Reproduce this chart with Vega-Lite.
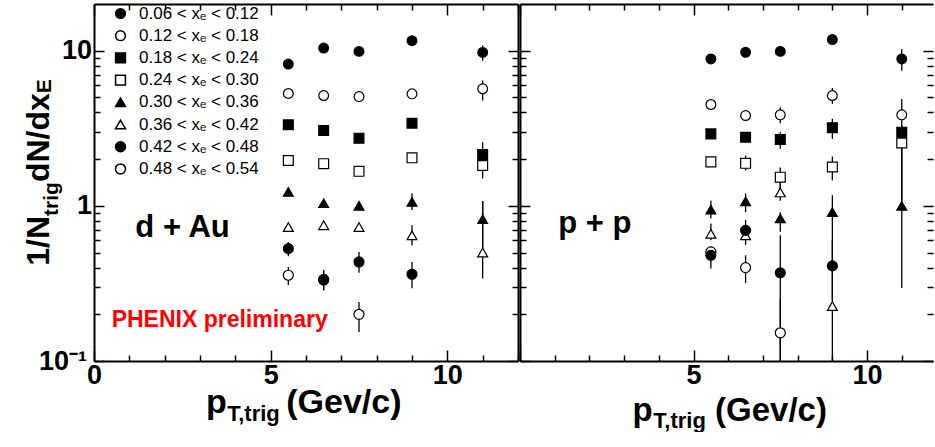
{
  "$schema": "https://vega.github.io/schema/vega-lite/v6.json",
  "padding": {"left": 22, "top": 3, "right": 0, "bottom": 0},
  "autosize": {"type": "pad"},
  "background": "white",
  "spacing": 0,
  "datasets": {
    "pts": [
      {"panel":"dAu","series":"0.06 < xₑ < 0.12","pt":5.5,"v":8.2,"lo":8.0,"hi":8.4},
      {"panel":"dAu","series":"0.06 < xₑ < 0.12","pt":6.5,"v":10.4,"lo":10.1,"hi":10.7},
      {"panel":"dAu","series":"0.06 < xₑ < 0.12","pt":7.5,"v":9.9,"lo":9.6,"hi":10.2},
      {"panel":"dAu","series":"0.06 < xₑ < 0.12","pt":9,"v":11.6,"lo":11.2,"hi":12.0},
      {"panel":"dAu","series":"0.06 < xₑ < 0.12","pt":11,"v":9.75,"lo":8.63,"hi":10.8},
      {"panel":"dAu","series":"0.12 < xₑ < 0.18","pt":5.5,"v":5.3,"lo":5.15,"hi":5.45},
      {"panel":"dAu","series":"0.12 < xₑ < 0.18","pt":6.5,"v":5.14,"lo":5.0,"hi":5.3},
      {"panel":"dAu","series":"0.12 < xₑ < 0.18","pt":7.5,"v":5.06,"lo":4.9,"hi":5.2},
      {"panel":"dAu","series":"0.12 < xₑ < 0.18","pt":9,"v":5.27,"lo":5.1,"hi":5.45},
      {"panel":"dAu","series":"0.12 < xₑ < 0.18","pt":11,"v":5.68,"lo":4.77,"hi":6.42},
      {"panel":"dAu","series":"0.18 < xₑ < 0.24","pt":5.5,"v":3.33,"lo":3.22,"hi":3.44},
      {"panel":"dAu","series":"0.18 < xₑ < 0.24","pt":6.5,"v":3.06,"lo":2.95,"hi":3.17},
      {"panel":"dAu","series":"0.18 < xₑ < 0.24","pt":7.5,"v":2.73,"lo":2.52,"hi":2.85},
      {"panel":"dAu","series":"0.18 < xₑ < 0.24","pt":9,"v":3.41,"lo":3.28,"hi":3.55},
      {"panel":"dAu","series":"0.18 < xₑ < 0.24","pt":11,"v":2.14,"lo":1.85,"hi":2.57},
      {"panel":"dAu","series":"0.24 < xₑ < 0.30","pt":5.5,"v":1.96,"lo":1.9,"hi":2.02},
      {"panel":"dAu","series":"0.24 < xₑ < 0.30","pt":6.5,"v":1.87,"lo":1.8,"hi":1.94},
      {"panel":"dAu","series":"0.24 < xₑ < 0.30","pt":7.5,"v":1.67,"lo":1.6,"hi":1.74},
      {"panel":"dAu","series":"0.24 < xₑ < 0.30","pt":9,"v":2.04,"lo":1.92,"hi":2.16},
      {"panel":"dAu","series":"0.24 < xₑ < 0.30","pt":11,"v":1.82,"lo":1.5,"hi":2.11},
      {"panel":"dAu","series":"0.30 < xₑ < 0.36","pt":5.5,"v":1.23,"lo":1.19,"hi":1.27},
      {"panel":"dAu","series":"0.30 < xₑ < 0.36","pt":6.5,"v":1.04,"lo":1.0,"hi":1.08},
      {"panel":"dAu","series":"0.30 < xₑ < 0.36","pt":7.5,"v":1.0,"lo":0.95,"hi":1.05},
      {"panel":"dAu","series":"0.30 < xₑ < 0.36","pt":9,"v":1.06,"lo":0.94,"hi":1.2},
      {"panel":"dAu","series":"0.30 < xₑ < 0.36","pt":11,"v":0.82,"lo":0.54,"hi":1.07},
      {"panel":"dAu","series":"0.36 < xₑ < 0.42","pt":5.5,"v":0.73,"lo":0.7,"hi":0.76},
      {"panel":"dAu","series":"0.36 < xₑ < 0.42","pt":6.5,"v":0.75,"lo":0.72,"hi":0.78},
      {"panel":"dAu","series":"0.36 < xₑ < 0.42","pt":7.5,"v":0.73,"lo":0.69,"hi":0.77},
      {"panel":"dAu","series":"0.36 < xₑ < 0.42","pt":9,"v":0.645,"lo":0.557,"hi":0.75},
      {"panel":"dAu","series":"0.36 < xₑ < 0.42","pt":11,"v":0.5,"lo":0.34,"hi":1.07},
      {"panel":"dAu","series":"0.42 < xₑ < 0.48","pt":5.5,"v":0.53,"lo":0.473,"hi":0.585},
      {"panel":"dAu","series":"0.42 < xₑ < 0.48","pt":6.5,"v":0.332,"lo":0.286,"hi":0.385},
      {"panel":"dAu","series":"0.42 < xₑ < 0.48","pt":7.5,"v":0.435,"lo":0.37,"hi":0.505},
      {"panel":"dAu","series":"0.42 < xₑ < 0.48","pt":9,"v":0.362,"lo":0.294,"hi":0.435},
      {"panel":"dAu","series":"0.48 < xₑ < 0.54","pt":5.5,"v":0.357,"lo":0.308,"hi":0.403},
      {"panel":"dAu","series":"0.48 < xₑ < 0.54","pt":6.5,"v":0.336,"lo":0.286,"hi":0.385},
      {"panel":"dAu","series":"0.48 < xₑ < 0.54","pt":7.5,"v":0.2,"lo":0.154,"hi":0.24},
      {"panel":"pp","series":"0.06 < xₑ < 0.12","pt":5.5,"v":8.85,"lo":8.6,"hi":9.1},
      {"panel":"pp","series":"0.06 < xₑ < 0.12","pt":6.5,"v":9.76,"lo":9.5,"hi":10.0},
      {"panel":"pp","series":"0.06 < xₑ < 0.12","pt":7.5,"v":9.9,"lo":9.6,"hi":10.2},
      {"panel":"pp","series":"0.06 < xₑ < 0.12","pt":9,"v":11.8,"lo":11.4,"hi":12.2},
      {"panel":"pp","series":"0.06 < xₑ < 0.12","pt":11,"v":8.85,"lo":7.44,"hi":10.25},
      {"panel":"pp","series":"0.12 < xₑ < 0.18","pt":5.5,"v":4.5,"lo":4.35,"hi":4.65},
      {"panel":"pp","series":"0.12 < xₑ < 0.18","pt":6.5,"v":3.82,"lo":3.6,"hi":4.05},
      {"panel":"pp","series":"0.12 < xₑ < 0.18","pt":7.5,"v":3.86,"lo":3.41,"hi":4.32},
      {"panel":"pp","series":"0.12 < xₑ < 0.18","pt":9,"v":5.14,"lo":4.54,"hi":5.75},
      {"panel":"pp","series":"0.12 < xₑ < 0.18","pt":11,"v":3.86,"lo":2.64,"hi":4.89},
      {"panel":"pp","series":"0.18 < xₑ < 0.24","pt":5.5,"v":2.91,"lo":2.8,"hi":3.02},
      {"panel":"pp","series":"0.18 < xₑ < 0.24","pt":6.5,"v":2.77,"lo":2.62,"hi":2.92},
      {"panel":"pp","series":"0.18 < xₑ < 0.24","pt":7.5,"v":2.68,"lo":2.33,"hi":2.98},
      {"panel":"pp","series":"0.18 < xₑ < 0.24","pt":9,"v":3.19,"lo":2.7,"hi":3.64},
      {"panel":"pp","series":"0.18 < xₑ < 0.24","pt":11,"v":2.98,"lo":2.64,"hi":3.29},
      {"panel":"pp","series":"0.24 < xₑ < 0.30","pt":5.5,"v":1.92,"lo":1.8,"hi":2.05},
      {"panel":"pp","series":"0.24 < xₑ < 0.30","pt":6.5,"v":1.88,"lo":1.69,"hi":2.11},
      {"panel":"pp","series":"0.24 < xₑ < 0.30","pt":7.5,"v":1.53,"lo":1.26,"hi":1.77},
      {"panel":"pp","series":"0.24 < xₑ < 0.30","pt":9,"v":1.78,"lo":1.46,"hi":2.08},
      {"panel":"pp","series":"0.24 < xₑ < 0.30","pt":11,"v":2.54,"lo":1.08,"hi":2.84},
      {"panel":"pp","series":"0.30 < xₑ < 0.36","pt":5.5,"v":0.945,"lo":0.83,"hi":1.08},
      {"panel":"pp","series":"0.30 < xₑ < 0.36","pt":6.5,"v":1.07,"lo":0.91,"hi":1.2},
      {"panel":"pp","series":"0.30 < xₑ < 0.36","pt":7.5,"v":0.83,"lo":0.68,"hi":0.91},
      {"panel":"pp","series":"0.30 < xₑ < 0.36","pt":9,"v":0.91,"lo":0.695,"hi":1.17},
      {"panel":"pp","series":"0.30 < xₑ < 0.36","pt":11,"v":1.0,"lo":0.295,"hi":2.6},
      {"panel":"pp","series":"0.36 < xₑ < 0.42","pt":5.5,"v":0.66,"lo":0.6,"hi":0.77},
      {"panel":"pp","series":"0.36 < xₑ < 0.42","pt":6.5,"v":0.645,"lo":0.56,"hi":0.75},
      {"panel":"pp","series":"0.36 < xₑ < 0.42","pt":7.5,"v":1.22,"lo":1.08,"hi":1.4},
      {"panel":"pp","series":"0.36 < xₑ < 0.42","pt":9,"v":0.226,"lo":0.1,"hi":0.7},
      {"panel":"pp","series":"0.42 < xₑ < 0.48","pt":5.5,"v":0.48,"lo":0.395,"hi":0.543},
      {"panel":"pp","series":"0.42 < xₑ < 0.48","pt":6.5,"v":0.695,"lo":0.6,"hi":0.81},
      {"panel":"pp","series":"0.42 < xₑ < 0.48","pt":7.5,"v":0.37,"lo":0.1,"hi":0.646},
      {"panel":"pp","series":"0.42 < xₑ < 0.48","pt":9,"v":0.41,"lo":0.247,"hi":0.6},
      {"panel":"pp","series":"0.48 < xₑ < 0.54","pt":5.5,"v":0.505,"lo":0.46,"hi":0.55},
      {"panel":"pp","series":"0.48 < xₑ < 0.54","pt":6.5,"v":0.4,"lo":0.318,"hi":0.48},
      {"panel":"pp","series":"0.48 < xₑ < 0.54","pt":7.5,"v":0.152,"lo":0.1,"hi":0.25}
    ],
    "notes": [
      {"panel":"dAu","kind":"label","t":"d + Au","x":1.17,"y":0.63},
      {"panel":"dAu","kind":"red","t":"PHENIX preliminary","x":0.50,"y":0.1656},
      {"panel":"dAu","kind":"big","t":"p","x":3.17,"y":0.0459},
      {"panel":"dAu","kind":"sub","t":"T,trig","x":3.77,"y":0.0411},
      {"panel":"dAu","kind":"big","t":"(Gev/c)","x":5.44,"y":0.0459},
      {"panel":"dAu","kind":"ymain","t":"1/N","x":-1.274,"y":0.4113},
      {"panel":"dAu","kind":"ysub","t":"trig","x":-1.019,"y":0.8614},
      {"panel":"dAu","kind":"ymain","t":"dN/dx","x":-1.274,"y":1.4228},
      {"panel":"dAu","kind":"ysub","t":"E","x":-1.217,"y":5.322},
      {"panel":"pp","kind":"label","t":"p + p","x":1.10,"y":0.668},
      {"panel":"pp","kind":"big","t":"p","x":3.24,"y":0.04135},
      {"panel":"pp","kind":"sub","t":"T,trig","x":3.84,"y":0.037},
      {"panel":"pp","kind":"big","t":"(Gev/c)","x":5.62,"y":0.04135}
    ]
  },
  "resolve": {"scale": {"shape": "independent", "fill": "independent", "size": "independent"}},
  "hconcat": [
    {
      "width": 424,
      "height": 357,
      "resolve": {"axis": {"x": "independent", "y": "independent"}},
      "layer": [
        {
          "data": {"name": "pts"},
          "transform": [{"filter": "datum.panel === 'dAu'"}],
          "mark": {"type": "rule", "color": "black", "strokeWidth": 1.3},
          "encoding": {
            "x": {"field": "pt", "type": "quantitative", "scale": {"domain": [0, 12], "nice": false, "zero": false},
              "axis": {"orient": "bottom", "title": null, "values": [0,1,2,3,4,5,6,7,8,9,10,11,12],
                "tickSize": {"condition": {"test": "datum.value % 5 === 0", "value": -11}, "value": -6},
                "labelExpr": "datum.value % 5 === 0 ? datum.label : ''", "labelPadding": 12}},
            "y": {"field": "lo", "type": "quantitative", "scale": {"type": "log", "domain": [0.1, 20], "nice": false},
              "axis": {"orient": "left", "title": null, "values": [0.1,0.2,0.3,0.4,0.5,0.6,0.7,0.8,0.9,1,2,3,4,5,6,7,8,9,10],
                "tickSize": {"condition": {"test": "datum.value == 0.1 || datum.value == 1 || datum.value == 10", "value": -10}, "value": -6},
                "labelPadding": {"condition": {"test": "datum.value == 0.1", "value": 17.5}, "value": 12.5},
                "labelExpr": "datum.value == 10 ? '10' : datum.value == 1 ? '1' : datum.value == 0.1 ? '10⁻¹' : ''"}},
            "y2": {"field": "hi"}
          }
        },
        {
          "data": {"name": "pts"},
          "transform": [{"filter": "datum.panel === 'dAu'"}, {"filter": {"field": "series", "oneOf": ["0.12 < xₑ < 0.18","0.24 < xₑ < 0.30","0.36 < xₑ < 0.42","0.48 < xₑ < 0.54"]}}],
          "mark": {"type": "point", "filled": true, "stroke": "black", "strokeWidth": 1.2, "opacity": 1},
          "encoding": {
            "x": {"field": "pt", "type": "quantitative", "scale": {"domain": [0, 12], "nice": false, "zero": false},
              "axis": {"orient": "top", "title": null, "values": [0,1,2,3,4,5,6,7,8,9,10,11,12], "labels": false,
                "tickSize": {"condition": {"test": "datum.value % 5 === 0", "value": -11}, "value": -6}}},
            "y": {"field": "v", "type": "quantitative", "scale": {"type": "log", "domain": [0.1, 20], "nice": false},
              "axis": {"orient": "right", "title": null, "values": [0.1,0.2,0.3,0.4,0.5,0.6,0.7,0.8,0.9,1,2,3,4,5,6,7,8,9,10], "labels": false,
                "tickSize": {"condition": {"test": "datum.value == 0.1 || datum.value == 1 || datum.value == 10", "value": -10}, "value": -6}}},
            "shape": {"field": "series", "type": "nominal",
              "legend": {"title": null, "encode": {"symbols": {"update": {"stroke": {"value": "black"}, "strokeWidth": {"value": 1.2}}}}},
              "scale": {"domain": ["0.06 < xₑ < 0.12","0.12 < xₑ < 0.18","0.18 < xₑ < 0.24","0.24 < xₑ < 0.30","0.30 < xₑ < 0.36","0.36 < xₑ < 0.42","0.42 < xₑ < 0.48","0.48 < xₑ < 0.54"],
                "range": ["circle","circle","square","square","triangle-up","triangle-up","circle","circle"]}},
            "fill": {"field": "series", "type": "nominal",
              "legend": {"title": null, "encode": {"symbols": {"update": {"stroke": {"value": "black"}, "strokeWidth": {"value": 1.2}}}}},
              "scale": {"domain": ["0.06 < xₑ < 0.12","0.12 < xₑ < 0.18","0.18 < xₑ < 0.24","0.24 < xₑ < 0.30","0.30 < xₑ < 0.36","0.36 < xₑ < 0.42","0.42 < xₑ < 0.48","0.48 < xₑ < 0.54"],
                "range": ["black","white","black","white","black","white","black","white"]}},
            "size": {"field": "series", "type": "nominal",
              "legend": {"title": null, "encode": {"symbols": {"update": {"stroke": {"value": "black"}, "strokeWidth": {"value": 1.2}}}}},
              "scale": {"domain": ["0.06 < xₑ < 0.12","0.12 < xₑ < 0.18","0.18 < xₑ < 0.24","0.24 < xₑ < 0.30","0.30 < xₑ < 0.36","0.36 < xₑ < 0.42","0.42 < xₑ < 0.48","0.48 < xₑ < 0.54"],
                "range": [95, 100, 95, 95, 100, 110, 55, 150]}}
          }
        },
        {
          "data": {"name": "pts"},
          "transform": [{"filter": "datum.panel === 'dAu'"}, {"filter": {"field": "series", "oneOf": ["0.06 < xₑ < 0.12","0.18 < xₑ < 0.24","0.30 < xₑ < 0.36","0.42 < xₑ < 0.48"]}}],
          "mark": {"type": "point", "filled": true, "stroke": "black", "strokeWidth": 1.2, "opacity": 1},
          "encoding": {
            "x": {"field": "pt", "type": "quantitative", "scale": {"domain": [0, 12], "nice": false, "zero": false}, "axis": null},
            "y": {"field": "v", "type": "quantitative", "scale": {"type": "log", "domain": [0.1, 20], "nice": false}, "axis": null},
            "shape": {"field": "series", "type": "nominal",
              "legend": {"title": null, "encode": {"symbols": {"update": {"stroke": {"value": "black"}, "strokeWidth": {"value": 1.2}}}}},
              "scale": {"domain": ["0.06 < xₑ < 0.12","0.12 < xₑ < 0.18","0.18 < xₑ < 0.24","0.24 < xₑ < 0.30","0.30 < xₑ < 0.36","0.36 < xₑ < 0.42","0.42 < xₑ < 0.48","0.48 < xₑ < 0.54"],
                "range": ["circle","circle","square","square","triangle-up","triangle-up","circle","circle"]}},
            "fill": {"field": "series", "type": "nominal",
              "legend": {"title": null, "encode": {"symbols": {"update": {"stroke": {"value": "black"}, "strokeWidth": {"value": 1.2}}}}},
              "scale": {"domain": ["0.06 < xₑ < 0.12","0.12 < xₑ < 0.18","0.18 < xₑ < 0.24","0.24 < xₑ < 0.30","0.30 < xₑ < 0.36","0.36 < xₑ < 0.42","0.42 < xₑ < 0.48","0.48 < xₑ < 0.54"],
                "range": ["black","white","black","white","black","white","black","white"]}},
            "size": {"field": "series", "type": "nominal",
              "legend": {"title": null, "encode": {"symbols": {"update": {"stroke": {"value": "black"}, "strokeWidth": {"value": 1.2}}}}},
              "scale": {"domain": ["0.06 < xₑ < 0.12","0.12 < xₑ < 0.18","0.18 < xₑ < 0.24","0.24 < xₑ < 0.30","0.30 < xₑ < 0.36","0.36 < xₑ < 0.42","0.42 < xₑ < 0.48","0.48 < xₑ < 0.54"],
                "range": [95, 100, 95, 95, 100, 110, 55, 150]}}
          }
        },
        {
          "data": {"name": "notes"},
          "transform": [{"filter": "datum.panel === 'dAu' && datum.kind === 'label'"}],
          "mark": {"type": "text", "font": "Liberation Sans", "fontWeight": "bold", "fontSize": 31, "align": "left", "baseline": "alphabetic", "color": "black"},
          "encoding": {
            "x": {"field": "x", "type": "quantitative", "scale": {"domain": [0, 12], "nice": false, "zero": false}, "axis": null},
            "y": {"field": "y", "type": "quantitative", "scale": {"type": "log", "domain": [0.1, 20], "nice": false}, "axis": null},
            "text": {"field": "t"}
          }
        },
        {
          "data": {"name": "notes"},
          "transform": [{"filter": "datum.panel === 'dAu' && datum.kind === 'big'"}],
          "mark": {"type": "text", "font": "Liberation Sans", "fontWeight": "bold", "fontSize": 34, "align": "left", "baseline": "alphabetic", "color": "black"},
          "encoding": {
            "x": {"field": "x", "type": "quantitative", "scale": {"domain": [0, 12], "nice": false, "zero": false}, "axis": null},
            "y": {"field": "y", "type": "quantitative", "scale": {"type": "log", "domain": [0.1, 20], "nice": false}, "axis": null},
            "text": {"field": "t"}
          }
        },
        {
          "data": {"name": "notes"},
          "transform": [{"filter": "datum.panel === 'dAu' && datum.kind === 'sub'"}],
          "mark": {"type": "text", "font": "Liberation Sans", "fontWeight": "bold", "fontSize": 22, "align": "left", "baseline": "alphabetic", "color": "black"},
          "encoding": {
            "x": {"field": "x", "type": "quantitative", "scale": {"domain": [0, 12], "nice": false, "zero": false}, "axis": null},
            "y": {"field": "y", "type": "quantitative", "scale": {"type": "log", "domain": [0.1, 20], "nice": false}, "axis": null},
            "text": {"field": "t"}
          }
        },
        {
          "data": {"name": "notes"},
          "transform": [{"filter": "datum.panel === 'dAu' && datum.kind === 'red'"}],
          "mark": {"type": "text", "font": "Liberation Sans", "fontWeight": "bold", "fontSize": 23, "align": "left", "baseline": "alphabetic", "color": "#ff0000"},
          "encoding": {
            "x": {"field": "x", "type": "quantitative", "scale": {"domain": [0, 12], "nice": false, "zero": false}, "axis": null},
            "y": {"field": "y", "type": "quantitative", "scale": {"type": "log", "domain": [0.1, 20], "nice": false}, "axis": null},
            "text": {"field": "t"}
          }
        },
        {
          "data": {"name": "notes"},
          "transform": [{"filter": "datum.panel === 'dAu' && datum.kind === 'ymain'"}],
          "mark": {"type": "text", "font": "Liberation Sans", "fontWeight": "bold", "fontSize": 32, "angle": 270, "align": "left", "baseline": "alphabetic", "color": "black"},
          "encoding": {
            "x": {"field": "x", "type": "quantitative", "scale": {"domain": [0, 12], "nice": false, "zero": false}, "axis": null},
            "y": {"field": "y", "type": "quantitative", "scale": {"type": "log", "domain": [0.1, 20], "nice": false}, "axis": null},
            "text": {"field": "t"}
          }
        },
        {
          "data": {"name": "notes"},
          "transform": [{"filter": "datum.panel === 'dAu' && datum.kind === 'ysub'"}],
          "mark": {"type": "text", "font": "Liberation Sans", "fontWeight": "bold", "fontSize": 21, "angle": 270, "align": "left", "baseline": "alphabetic", "color": "black"},
          "encoding": {
            "x": {"field": "x", "type": "quantitative", "scale": {"domain": [0, 12], "nice": false, "zero": false}, "axis": null},
            "y": {"field": "y", "type": "quantitative", "scale": {"type": "log", "domain": [0.1, 20], "nice": false}, "axis": null},
            "text": {"field": "t"}
          }
        }
      ]
    },
    {
      "width": 413,
      "height": 357,
      "resolve": {"axis": {"x": "independent", "y": "independent"}},
      "layer": [
        {
          "data": {"name": "pts"},
          "transform": [{"filter": "datum.panel === 'pp'"}],
          "mark": {"type": "rule", "color": "black", "strokeWidth": 1.3},
          "encoding": {
            "x": {"field": "pt", "type": "quantitative", "scale": {"domain": [0, 11.9], "nice": false, "zero": false},
              "axis": {"orient": "bottom", "title": null, "values": [0,1,2,3,4,5,6,7,8,9,10,11],
                "tickSize": {"condition": {"test": "datum.value % 5 === 0", "value": -11}, "value": -6},
                "labelExpr": "datum.value == 5 || datum.value == 10 ? datum.label : ''", "labelPadding": 12}},
            "y": {"field": "lo", "type": "quantitative", "scale": {"type": "log", "domain": [0.1, 20], "nice": false},
              "axis": {"orient": "left", "title": null, "values": [0.1,0.2,0.3,0.4,0.5,0.6,0.7,0.8,0.9,1,2,3,4,5,6,7,8,9,10], "labels": false,
                "tickSize": {"condition": {"test": "datum.value == 0.1 || datum.value == 1 || datum.value == 10", "value": -10}, "value": -6}}},
            "y2": {"field": "hi"}
          }
        },
        {
          "data": {"name": "pts"},
          "transform": [{"filter": "datum.panel === 'pp'"}, {"filter": {"field": "series", "oneOf": ["0.12 < xₑ < 0.18","0.24 < xₑ < 0.30","0.36 < xₑ < 0.42","0.48 < xₑ < 0.54"]}}],
          "mark": {"type": "point", "filled": true, "stroke": "black", "strokeWidth": 1.2, "opacity": 1},
          "encoding": {
            "x": {"field": "pt", "type": "quantitative", "scale": {"domain": [0, 11.9], "nice": false, "zero": false},
              "axis": {"orient": "top", "title": null, "values": [0,1,2,3,4,5,6,7,8,9,10,11], "labels": false,
                "tickSize": {"condition": {"test": "datum.value % 5 === 0", "value": -11}, "value": -6}}},
            "y": {"field": "v", "type": "quantitative", "scale": {"type": "log", "domain": [0.1, 20], "nice": false},
              "axis": {"orient": "right", "title": null, "domain": false, "values": [0.1,0.2,0.3,0.4,0.5,0.6,0.7,0.8,0.9,1,2,3,4,5,6,7,8,9,10], "labels": false,
                "tickSize": {"condition": {"test": "datum.value == 0.1 || datum.value == 1 || datum.value == 10", "value": -10}, "value": -6}}},
            "shape": {"field": "series", "type": "nominal", "legend": null,
              "scale": {"domain": ["0.06 < xₑ < 0.12","0.12 < xₑ < 0.18","0.18 < xₑ < 0.24","0.24 < xₑ < 0.30","0.30 < xₑ < 0.36","0.36 < xₑ < 0.42","0.42 < xₑ < 0.48","0.48 < xₑ < 0.54"],
                "range": ["circle","circle","square","square","triangle-up","triangle-up","circle","circle"]}},
            "fill": {"field": "series", "type": "nominal", "legend": null,
              "scale": {"domain": ["0.06 < xₑ < 0.12","0.12 < xₑ < 0.18","0.18 < xₑ < 0.24","0.24 < xₑ < 0.30","0.30 < xₑ < 0.36","0.36 < xₑ < 0.42","0.42 < xₑ < 0.48","0.48 < xₑ < 0.54"],
                "range": ["black","white","black","white","black","white","black","white"]}},
            "size": {"field": "series", "type": "nominal", "legend": null,
              "scale": {"domain": ["0.06 < xₑ < 0.12","0.12 < xₑ < 0.18","0.18 < xₑ < 0.24","0.24 < xₑ < 0.30","0.30 < xₑ < 0.36","0.36 < xₑ < 0.42","0.42 < xₑ < 0.48","0.48 < xₑ < 0.54"],
                "range": [95, 100, 95, 95, 100, 110, 90, 150]}}
          }
        },
        {
          "data": {"name": "pts"},
          "transform": [{"filter": "datum.panel === 'pp'"}, {"filter": {"field": "series", "oneOf": ["0.06 < xₑ < 0.12","0.18 < xₑ < 0.24","0.30 < xₑ < 0.36","0.42 < xₑ < 0.48"]}}],
          "mark": {"type": "point", "filled": true, "stroke": "black", "strokeWidth": 1.2, "opacity": 1},
          "encoding": {
            "x": {"field": "pt", "type": "quantitative", "scale": {"domain": [0, 11.9], "nice": false, "zero": false}, "axis": null},
            "y": {"field": "v", "type": "quantitative", "scale": {"type": "log", "domain": [0.1, 20], "nice": false}, "axis": null},
            "shape": {"field": "series", "type": "nominal", "legend": null,
              "scale": {"domain": ["0.06 < xₑ < 0.12","0.12 < xₑ < 0.18","0.18 < xₑ < 0.24","0.24 < xₑ < 0.30","0.30 < xₑ < 0.36","0.36 < xₑ < 0.42","0.42 < xₑ < 0.48","0.48 < xₑ < 0.54"],
                "range": ["circle","circle","square","square","triangle-up","triangle-up","circle","circle"]}},
            "fill": {"field": "series", "type": "nominal", "legend": null,
              "scale": {"domain": ["0.06 < xₑ < 0.12","0.12 < xₑ < 0.18","0.18 < xₑ < 0.24","0.24 < xₑ < 0.30","0.30 < xₑ < 0.36","0.36 < xₑ < 0.42","0.42 < xₑ < 0.48","0.48 < xₑ < 0.54"],
                "range": ["black","white","black","white","black","white","black","white"]}},
            "size": {"field": "series", "type": "nominal", "legend": null,
              "scale": {"domain": ["0.06 < xₑ < 0.12","0.12 < xₑ < 0.18","0.18 < xₑ < 0.24","0.24 < xₑ < 0.30","0.30 < xₑ < 0.36","0.36 < xₑ < 0.42","0.42 < xₑ < 0.48","0.48 < xₑ < 0.54"],
                "range": [95, 100, 95, 95, 100, 110, 90, 150]}}
          }
        },
        {
          "data": {"name": "notes"},
          "transform": [{"filter": "datum.panel === 'pp' && datum.kind === 'label'"}],
          "mark": {"type": "text", "font": "Liberation Sans", "fontWeight": "bold", "fontSize": 31, "align": "left", "baseline": "alphabetic", "color": "black"},
          "encoding": {
            "x": {"field": "x", "type": "quantitative", "scale": {"domain": [0, 11.9], "nice": false, "zero": false}, "axis": null},
            "y": {"field": "y", "type": "quantitative", "scale": {"type": "log", "domain": [0.1, 20], "nice": false}, "axis": null},
            "text": {"field": "t"}
          }
        },
        {
          "data": {"name": "notes"},
          "transform": [{"filter": "datum.panel === 'pp' && datum.kind === 'big'"}],
          "mark": {"type": "text", "font": "Liberation Sans", "fontWeight": "bold", "fontSize": 33, "align": "left", "baseline": "alphabetic", "color": "black"},
          "encoding": {
            "x": {"field": "x", "type": "quantitative", "scale": {"domain": [0, 11.9], "nice": false, "zero": false}, "axis": null},
            "y": {"field": "y", "type": "quantitative", "scale": {"type": "log", "domain": [0.1, 20], "nice": false}, "axis": null},
            "text": {"field": "t"}
          }
        },
        {
          "data": {"name": "notes"},
          "transform": [{"filter": "datum.panel === 'pp' && datum.kind === 'sub'"}],
          "mark": {"type": "text", "font": "Liberation Sans", "fontWeight": "bold", "fontSize": 22, "align": "left", "baseline": "alphabetic", "color": "black"},
          "encoding": {
            "x": {"field": "x", "type": "quantitative", "scale": {"domain": [0, 11.9], "nice": false, "zero": false}, "axis": null},
            "y": {"field": "y", "type": "quantitative", "scale": {"type": "log", "domain": [0.1, 20], "nice": false}, "axis": null},
            "text": {"field": "t"}
          }
        }
      ]
    }
  ],
  "config": {
    "view": {"stroke": null},
    "axis": {"domainColor": "black", "domainWidth": 2, "tickColor": "black", "tickWidth": 1.5, "labelFont": "Liberation Sans", "labelFontWeight": "bold", "labelFontSize": 27, "labelColor": "black", "grid": false, "labelOverlap": false, "labelBound": false, "labelFlush": false},
    "legend": {"orient": "none", "legendX": 18, "legendY": 1, "labelFont": "Liberation Sans", "labelFontSize": 17, "labelColor": "black", "rowPadding": 4.2, "labelOffset": 10, "padding": 0}
  }
}
